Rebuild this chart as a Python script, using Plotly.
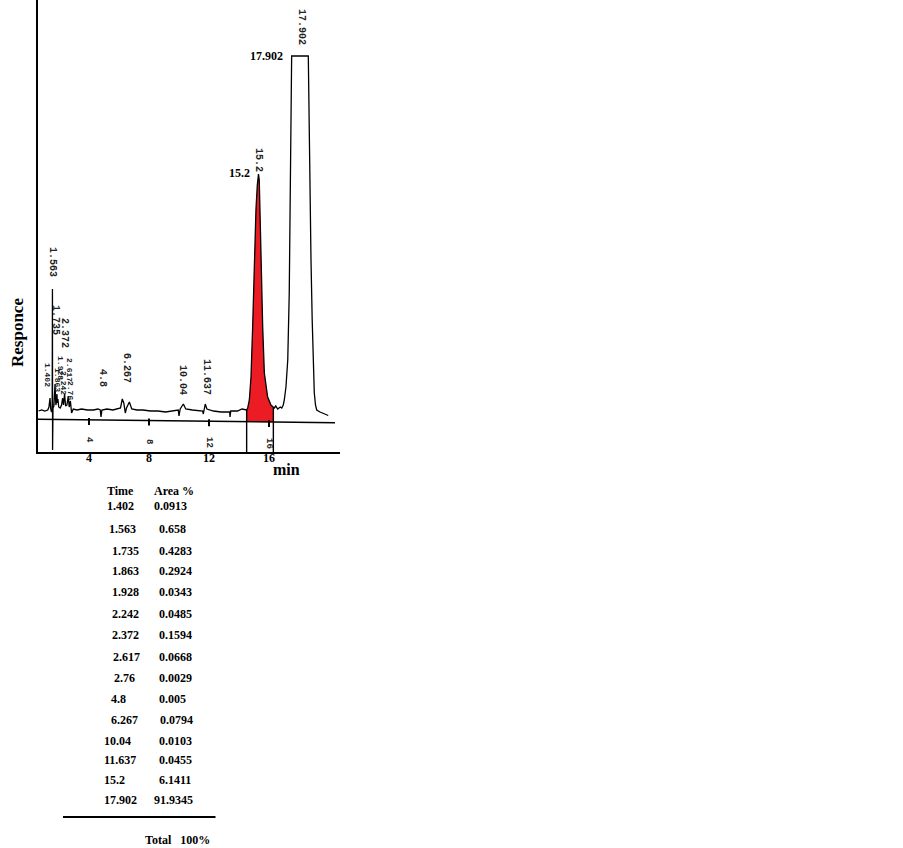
import numpy as np
import plotly.graph_objects as go

# ---------------- data ----------------
# retention time (min) and detector response (arbitrary units, baseline = 0)
trace_time = [0.63, 0.85, 1.05, 1.25, 1.33, 1.40, 1.45, 1.50, 1.545, 1.563, 1.572, 1.60,
              1.66, 1.735, 1.79, 1.83, 1.863, 1.89, 1.928, 1.98, 2.08, 2.17, 2.242, 2.30,
              2.372, 2.44, 2.53, 2.617, 2.68, 2.76, 2.84, 2.95, 3.2, 3.5, 3.9, 4.3, 4.6,
              4.75, 4.8, 4.86, 5.2, 5.6, 5.95, 6.1, 6.22, 6.32, 6.42, 6.5, 6.69, 6.85,
              7.2, 7.6, 8.1, 8.6, 9.1, 9.6, 9.95, 10.0, 10.08, 10.29, 10.45, 10.9, 11.3,
              11.58, 11.62, 11.66, 11.75, 11.86, 12.3, 12.8, 13.2, 13.38, 13.4, 13.45,
              13.9, 14.2, 14.51, 14.58, 14.69, 14.8, 14.91, 15.02, 15.13, 15.22, 15.3,
              15.35, 15.47, 15.58, 15.69, 15.8, 15.91, 16.13, 16.35, 16.45, 16.58, 16.75,
              16.85, 16.95, 17.02, 17.13, 17.25, 17.35, 17.42, 17.49, 17.51, 18.62, 18.66,
              18.73, 18.8, 18.88, 18.95, 19.02, 19.1, 19.18, 19.4, 19.7, 19.95]
trace_resp = [-1, 0, -1, 0, 3, 12, 1, -2, 0, 121, -40, 2,
              4, 26, 5, 8, 16, 7, 11, 3, 2, 5, 12, 5,
              16, 4, 5, 14, 3, 9, -3, 1, 0, 1, 0, 0, 1,
              0, -7, 0, 1, 0, 1, 2, 11, 7, -3, 2, 8, 1,
              0, 0, -1, -1, -2, -1, 0, -6, 1, 6, 1, 0, -1,
              -1, -4, 1, 6, 1, -1, -2, -2, -2, -7, -1,
              -1, 1, 0, 2, 10, 33, 83, 150, 200, 225, 236,
              230, 150, 83, 37, 22, 13, 5, 2, 4, 1, 3,
              2, 5, 10, 23, 50, 117, 230, 330, 354, 354, 300,
              243, 150, 90, 55, 17, 5, 0, -2, -4, -5.5]

# recorder baseline (chart-paper axis) drawn by the integrator
recorder_time = [0.6, 20.4]
recorder_resp = [-9.3, -12.7]
recorder_ticks = [4, 8, 12, 16]
recorder_tick_text = ["4", "8", "12", "16"]

# integration window of the shaded 15.2 min peak
cut_times = [14.51, 16.29]

# rotated peak labels printed by the integrator
peak_label_text = ["1.563", "1.735", "2.372", "1.402", "1.863", "1.928", "2.242", "2.617",
                   "2.76", "4.8", "6.267", "10.04", "11.637", "15.2", "17.902"]

# bottom axis ticks
axis_ticks = [4, 8, 12, 16]
axis_tick_text = ["4", "8", "12", "16"]

# results table
table_time = ["1.402", "1.563", "1.735", "1.863", "1.928", "2.242", "2.372", "2.617",
              "2.76", "4.8", "6.267", "10.04", "11.637", "15.2", "17.902"]
table_area = ["0.0913", "0.658", "0.4283", "0.2924", "0.0343", "0.0485", "0.1594", "0.0668",
              "0.0029", "0.005", "0.0794", "0.0103", "0.0455", "6.1411", "91.9345"]
total_text = "Total&nbsp;&nbsp;&nbsp;100%"

# ---------------- layout helpers (positions / styles) ----------------
W, H = 903, 848
PL, PR, PT, PB = 38, 340, 0, 452          # plot area in pixels
X_RANGE = [0.6, 20.733]
Y_RANGE = [-42, 410]


def px(x):
    return (x - PL) / (PR - PL)


def py(y):
    return (PB - y) / (PB - PT)


SERIF = "Liberation Serif"
MONO = "Liberation Mono"

fig = go.Figure()

# red filled area of the 15.2 peak (curve down to recorder baseline)
t_arr = np.array(trace_time)
r_arr = np.array(trace_resp, dtype=float)
mask = (t_arr > cut_times[0]) & (t_arr < cut_times[1])
edge_r = np.interp(cut_times, t_arr, r_arr)
base_r = np.interp(cut_times, recorder_time, recorder_resp)
fill_t = [cut_times[0]] + list(t_arr[mask]) + [cut_times[1], cut_times[1], cut_times[0]]
fill_r = [edge_r[0]] + list(r_arr[mask]) + [edge_r[1], base_r[1], base_r[0]]
fig.add_trace(go.Scatter(x=fill_t, y=fill_r, mode="lines", fill="toself",
                         fillcolor="#ec1c24", line=dict(width=0), hoverinfo="skip"))

# recorder baseline
fig.add_trace(go.Scatter(x=recorder_time, y=recorder_resp, mode="lines",
                         line=dict(color="black", width=1.4), hoverinfo="skip"))
tick_r = np.interp(recorder_ticks, recorder_time, recorder_resp)
fig.add_trace(go.Scatter(x=recorder_ticks, y=tick_r - 1.5, mode="markers",
                         marker=dict(symbol="line-ns", size=5,
                                     line=dict(color="black", width=2)),
                         hoverinfo="skip"))

# integration cut lines
for ct, er in zip(cut_times, edge_r):
    fig.add_trace(go.Scatter(x=[ct, ct], y=[er, Y_RANGE[0]], mode="lines",
                             line=dict(color="black", width=1.4), hoverinfo="skip"))

# chromatogram
fig.add_trace(go.Scatter(x=trace_time, y=trace_resp, mode="lines",
                         line=dict(color="black", width=1.3), hoverinfo="skip"))

annotations = []

# rotated integrator peak labels (positions in data units)
label_pos = [(1.6, 148), (1.8, 90), (2.4, 77), (1.27, 35), (1.93, 30), (2.13, 42),
             (2.33, 27), (2.73, 40), (2.8, 20), (4.93, 32), (6.53, 42), (10.27, 30),
             (11.87, 33), (15.33, 250), (18.2, 383)]
label_size = [10, 10, 10, 8, 8, 8, 8, 8, 8, 10, 10, 10, 10, 10, 10]
for txt, (lx, ly), fs in zip(peak_label_text, label_pos, label_size):
    annotations.append(dict(x=lx, y=ly, xref="x", yref="y", text=txt, textangle=90,
                            showarrow=False, xanchor="center", yanchor="middle",
                            font=dict(family=MONO, size=fs, color="#222", weight="bold")))

# rotated recorder tick labels
for tv, tt, ry in zip(recorder_ticks, recorder_tick_text, [-30, -31, -32, -33]):
    annotations.append(dict(x=tv, y=ry, xref="x", yref="y", text=tt, textangle=90,
                            showarrow=False, xanchor="center", yanchor="middle",
                            font=dict(family=MONO, size=9, color="#222", weight="bold")))

# bottom axis tick labels (placed on the x scale, just under the axis line)
for tv, tt in zip(axis_ticks, axis_tick_text):
    annotations.append(dict(x=tv, y=py(458), xref="x", yref="paper", text=tt,
                            showarrow=False, xanchor="center", yanchor="middle",
                            font=dict(family=SERIF, size=12, color="black", weight="bold")))

# horizontal peak labels
annotations.append(dict(x=14.0, y=237, xref="x", yref="y", text="15.2", showarrow=False,
                        xanchor="center", yanchor="middle",
                        font=dict(family=SERIF, size=12, color="black", weight="bold")))
annotations.append(dict(x=15.8, y=354, xref="x", yref="y", text="17.902", showarrow=False,
                        xanchor="center", yanchor="middle",
                        font=dict(family=SERIF, size=12, color="black", weight="bold")))

# axis titles
annotations.append(dict(x=px(17), y=py(333), xref="paper", yref="paper", text="Responce",
                        textangle=-90, showarrow=False, xanchor="center", yanchor="middle",
                        font=dict(family=SERIF, size=17, color="black", weight="bold")))
annotations.append(dict(x=px(286), y=py(469), xref="paper", yref="paper", text="min",
                        showarrow=False, xanchor="center", yanchor="middle",
                        font=dict(family=SERIF, size=16, color="black", weight="bold")))

# table
tfont = dict(family=SERIF, size=12, color="black", weight="bold")
annotations.append(dict(x=px(105), y=py(491.5), xref="paper", yref="paper", text="Time",
                        showarrow=False, xanchor="left", yanchor="middle", font=tfont))
annotations.append(dict(x=px(152.3), y=py(491.5), xref="paper", yref="paper", text="Area %",
                        showarrow=False, xanchor="left", yanchor="middle", font=tfont))
row_y = [506, 529, 551, 571, 592, 614, 635, 657, 678, 699, 720, 741, 759.5, 780, 800]
time_x = [105, 106.7, 110, 110, 110, 110, 110, 110.5, 112, 109, 109, 101.7, 101.7, 101.7,
          101.7]
area_x = [152.3, 156.7, 156.7, 156.7, 156.7, 156.7, 156.7, 157, 157, 157, 158, 156.7,
          157.3, 156.7, 151.7]
for tt, aa, yy, tx, ax in zip(table_time, table_area, row_y, time_x, area_x):
    annotations.append(dict(x=px(tx), y=py(yy), xref="paper", yref="paper", text=tt,
                            showarrow=False, xanchor="left", yanchor="middle", font=tfont))
    annotations.append(dict(x=px(ax), y=py(yy), xref="paper", yref="paper", text=aa,
                            showarrow=False, xanchor="left", yanchor="middle", font=tfont))
annotations.append(dict(x=px(143.3), y=py(839.5), xref="paper", yref="paper",
                        text=total_text,
                        showarrow=False, xanchor="left", yanchor="middle", font=tfont))

shapes = [dict(type="line", xref="paper", yref="paper", x0=px(63), x1=px(215.5),
               y0=py(817), y1=py(817), line=dict(color="black", width=2))]

fig.update_layout(
    width=W, height=H,
    margin=dict(l=PL, r=W - PR, t=PT, b=H - PB, pad=0),
    paper_bgcolor="white", plot_bgcolor="white",
    showlegend=False, hovermode=False,
    annotations=annotations, shapes=shapes,
    xaxis=dict(range=X_RANGE, showgrid=False, zeroline=False, showline=True,
               linecolor="black", linewidth=1.5, ticks="", showticklabels=False),
    yaxis=dict(range=Y_RANGE, showgrid=False, zeroline=False, showline=True,
               linecolor="black", linewidth=1.5, ticks="", showticklabels=False),
)

fig.write_html("out.html", config={"displayModeBar": False},
               post_script="document.body.style.margin='0';document.body.style.padding='0';")
